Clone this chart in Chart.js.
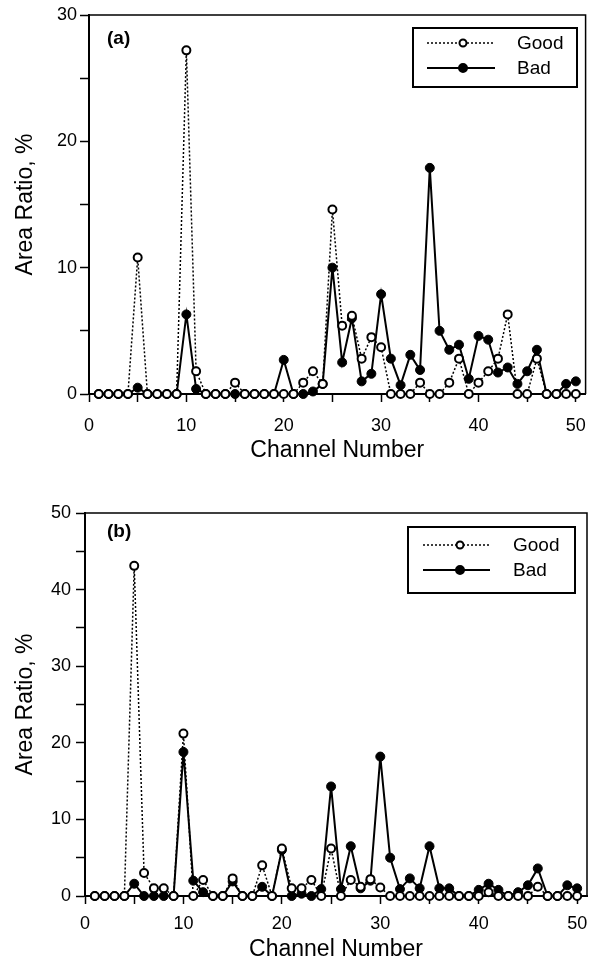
<!DOCTYPE html>
<html>
<head>
<meta charset="utf-8">
<script src="https://cdn.jsdelivr.net/npm/chart.js@4.4.0/dist/chart.umd.min.js"></script>
<style>
  html, body { margin: 0; padding: 0; background: #fff; }
  #wrap { position: relative; width: 599px; height: 963px; }
  .panel { position: absolute; left: 0; width: 599px; }
  #pa { top: 0; height: 480px; }
  #pb { top: 480px; height: 483px; }
</style>
</head>
<body>
<div id="wrap">
  <div class="panel" id="pa"><canvas id="chart-a" width="599" height="480"></canvas></div>
  <div class="panel" id="pb"><canvas id="chart-b" width="599" height="483"></canvas></div>
</div>
<script>
// ==========================================
// Area ratio per channel · Good vs Bad
// ==========================================

const FONT = '"Liberation Sans", Arial, Helvetica, sans-serif';

const CHANNELS = [
   1,  2,  3,  4,  5,  6,  7,  8,  9, 10,
  11, 12, 13, 14, 15, 16, 17, 18, 19, 20,
  21, 22, 23, 24, 25, 26, 27, 28, 29, 30,
  31, 32, 33, 34, 35, 36, 37, 38, 39, 40,
  41, 42, 43, 44, 45, 46, 47, 48, 49, 50,
];

const SERIES_NAMES = ['Good', 'Bad'];

// panel (a)
const GOOD_A = [
  0, 0, 0, 0, 10.8,   0, 0, 0, 0, 27.2,
  1.8, 0, 0, 0, 0.9,  0, 0, 0, 0, 0,
  0, 0.9, 1.8, 0.8, 14.6,  5.4, 6.2, 2.8, 4.5, 3.7,
  0, 0, 0, 0.9, 0,    0, 0.9, 2.8, 0, 0.9,
  1.8, 2.8, 6.3, 0, 0,  2.8, 0, 0, 0, 0,
];
const BAD_A = [
  0, 0, 0, 0, 0.5,    0, 0, 0, 0, 6.3,
  0.4, 0, 0, 0, 0,    0, 0, 0, 0, 2.7,
  0, 0, 0.2, 0.8, 10.0,  2.5, 6.0, 1.0, 1.6, 7.9,
  2.8, 0.7, 3.1, 1.9, 17.9,  5.0, 3.5, 3.9, 1.2, 4.6,
  4.3, 1.7, 2.1, 0.8, 1.8,  3.5, 0, 0, 0.8, 1.0,
];

// panel (b)
const GOOD_B = [
  0, 0, 0, 0, 43.1,   3.0, 1.0, 1.0, 0, 21.2,
  0, 2.1, 0, 0, 2.3,  0, 0, 4.0, 0, 6.2,
  1.0, 1.0, 2.1, 0, 6.2,  0, 2.1, 1.2, 2.2, 1.1,
  0, 0, 0, 0, 0,      0, 0, 0, 0, 0,
  0.5, 0, 0, 0, 0,    1.2, 0, 0, 0, 0,
];
const BAD_B = [
  0, 0, 0, 0, 1.6,    0, 0, 0, 0, 18.8,
  2.0, 0.5, 0, 0, 1.9,  0, 0, 1.2, 0, 6.0,
  0, 0.3, 0, 0.9, 14.3,  0.9, 6.5, 1.0, 2.0, 18.2,
  5.0, 0.9, 2.3, 1.0, 6.5,  1.0, 1.0, 0, 0, 0.8,
  1.6, 0.8, 0, 0.5, 1.4,  3.6, 0, 0, 1.4, 1.0,
];

const X_TICKS   = [0, 10, 20, 30, 40, 50];
const Y_TICKS_A = [0, 10, 20, 30];
const Y_TICKS_B = [0, 10, 20, 30, 40, 50];

function pairs(vals) {
  return CHANNELS.map((c, i) => ({ x: c, y: vals[i] }));
}

// marcas mayores + menores (cada 5)
function withMinor(major) {
  const out = [];
  major.forEach((v, i) => {
    out.push({ value: v });
    if (i < major.length - 1) out.push({ value: (v + major[i + 1]) / 2 });
  });
  return out;
}

function datasets(good, bad) {
  return [
    {
      label: SERIES_NAMES[0],
      data: pairs(good),
      borderColor: '#000',
      borderWidth: 1.5,
      borderDash: [2, 2],
      pointRadius: 4,
      pointBorderWidth: 2,
      pointBackgroundColor: '#fff',
      pointBorderColor: '#000',
      tension: 0,
      clip: false,
    },
    {
      label: SERIES_NAMES[1],
      data: pairs(bad),
      borderColor: '#000',
      borderWidth: 2,
      pointRadius: 4.5,
      pointBorderWidth: 1,
      pointBackgroundColor: '#000',
      pointBorderColor: '#000',
      tension: 0,
      clip: false,
    },
  ];
}

// marco superior/derecho + rótulo + leyenda con caja
const decor = {
  id: 'decor',
  beforeDatasetsDraw(chart) {
    const { ctx, chartArea: a } = chart;
    ctx.save();
    ctx.strokeStyle = '#000';
    ctx.lineWidth = 1.5;
    ctx.beginPath();
    ctx.moveTo(a.left, a.top);
    ctx.lineTo(a.right, a.top);
    ctx.lineTo(a.right, a.bottom);
    ctx.stroke();
    ctx.restore();
  },
  afterDraw(chart, args, o) {
    const { ctx } = chart;
    ctx.save();
    ctx.fillStyle = '#000';
    ctx.font = 'bold 19px ' + FONT;
    ctx.textBaseline = 'middle';
    ctx.fillText(o.tag, o.tagX, o.tagY);

    const lg = o.legend;
    ctx.fillStyle = '#fff';
    ctx.fillRect(lg.x, lg.y, lg.w, lg.h);
    ctx.strokeStyle = '#000';
    ctx.lineWidth = 2;
    ctx.strokeRect(lg.x, lg.y, lg.w, lg.h);
    lg.rows.forEach((y, i) => {
      ctx.beginPath();
      ctx.setLineDash(i === 0 ? [2, 2] : []);
      ctx.lineWidth = i === 0 ? 1.5 : 2;
      ctx.moveTo(lg.lx0, y);
      ctx.lineTo(lg.lx1, y);
      ctx.stroke();
      ctx.setLineDash([]);
      ctx.beginPath();
      ctx.arc(lg.mx, y, i === 0 ? 3.5 : 4, 0, Math.PI * 2);
      ctx.fillStyle = i === 0 ? '#fff' : '#000';
      ctx.fill();
      ctx.lineWidth = 2;
      ctx.stroke();
      ctx.fillStyle = '#000';
      ctx.font = '19px ' + FONT;
      ctx.textAlign = 'left';
      ctx.fillText(SERIES_NAMES[i], lg.tx, y + 1);
    });
    ctx.restore();
  }
};

function makeChart(id, good, bad, o) {
  return new Chart(document.getElementById(id), {
    type: 'line',
    data: { datasets: datasets(good, bad) },
    plugins: [decor],
    options: {
      responsive: false,
      animation: false,
      layout: { padding: { top: o.top, right: o.right, left: 0, bottom: 0 } },
      plugins: {
        legend: { display: false },
        tooltip: { enabled: false },
        decor: { tag: o.tag, tagX: 107, tagY: o.tagY, legend: o.legend },
      },
      scales: {
        x: {
          type: 'linear', min: 0, max: o.xMax,
          afterBuildTicks: s => { s.ticks = withMinor(X_TICKS); },
          afterFit: s => { s.height = o.xHeight; },
          ticks: {
            autoSkip: false, maxRotation: 0, padding: o.xPad,
            color: '#000', font: { family: FONT, size: 18 },
            callback: v => X_TICKS.includes(v) ? String(v) : '',
          },
          grid: { drawOnChartArea: false, tickLength: 8, tickWidth: 1.5, color: '#000' },
          border: { color: '#000', width: 2 },
          title: {
            display: true, text: 'Channel Number', color: '#000',
            font: { family: FONT, size: 23 }, padding: { top: 0, bottom: o.xTitlePad },
          },
        },
        y: {
          min: 0, max: o.yMax,
          afterBuildTicks: s => { s.ticks = withMinor(o.yTicks); },
          afterFit: s => { s.width = o.yWidth; },
          ticks: {
            autoSkip: false, padding: o.yPad,
            color: '#000', font: { family: FONT, size: 18 },
            callback: v => o.yTicks.includes(v) ? String(v) : '',
          },
          grid: { drawOnChartArea: false, tickLength: 9, tickWidth: 1.5, color: '#000' },
          border: { color: '#000', width: 2 },
          title: {
            display: true, text: 'Area Ratio, %', color: '#000',
            font: { family: FONT, size: 23 }, padding: { top: 12, bottom: 0 },
          },
        },
      },
    },
  });
}

makeChart('chart-a', GOOD_A, BAD_A, {
  tag: '(a)', tagY: 39,
  top: 15, right: 7, xMax: 51, yMax: 30, yTicks: Y_TICKS_A,
  xHeight: 86, xPad: 13, xTitlePad: 16, yWidth: 89, yPad: 3,
  legend: { x: 413, y: 28, w: 164, h: 59, rows: [43, 68], lx0: 427, lx1: 495, mx: 463, tx: 517 },
});

makeChart('chart-b', GOOD_B, BAD_B, {
  tag: '(b)', tagY: 52,
  top: 33, right: 12, xMax: 51, yMax: 50, yTicks: Y_TICKS_B,
  xHeight: 67, xPad: 9, xTitlePad: 0, yWidth: 85, yPad: 5,
  legend: { x: 408, y: 47, w: 167, h: 66, rows: [65, 90], lx0: 423, lx1: 490, mx: 460, tx: 513 },
});
</script>
</body>
</html>
